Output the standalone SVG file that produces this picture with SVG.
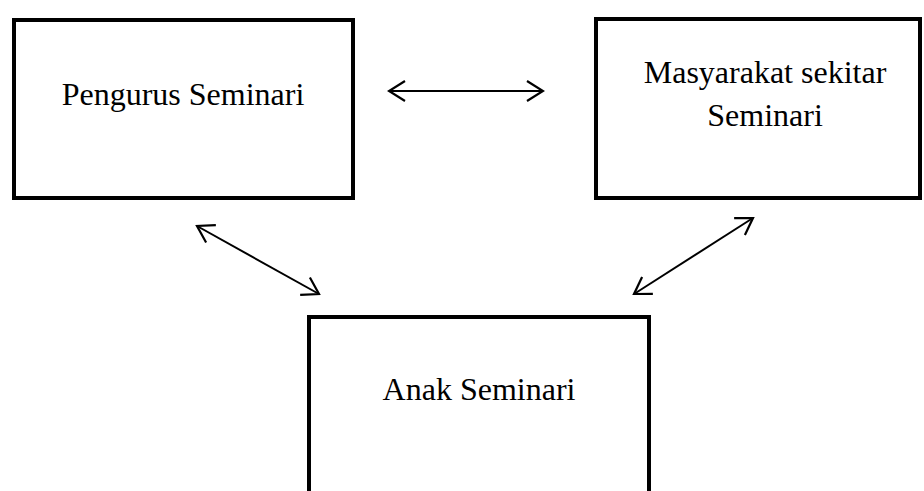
<svg xmlns="http://www.w3.org/2000/svg" width="924" height="491" viewBox="0 0 924 491">
<style>
.box{fill:#fff;stroke:#000;stroke-width:4}
.lbl{font-family:"Liberation Serif","Times New Roman",serif;font-size:32px;fill:#000;text-anchor:middle}
.con{stroke:#000;stroke-width:2;fill:none;marker-start:url(#ah);marker-end:url(#ah)}
</style>
<defs>
<marker id="ah" markerUnits="userSpaceOnUse" viewBox="-1 -11 20 22" refX="17" refY="0" markerWidth="20" markerHeight="22" orient="auto-start-reverse">
<path d="M1,-10 L17,0 L1,10" fill="none" stroke="#000" stroke-width="2.2" stroke-linejoin="miter"/>
</marker>
</defs>
<rect width="924" height="491" fill="#fff"/>
<g id="node-pengurus">
<rect class="box" x="14" y="20" width="339" height="178"/>
<text class="lbl" x="183" y="105">Pengurus Seminari</text>
</g>
<g id="node-masyarakat">
<rect class="box" x="596" y="19" width="324" height="179"/>
<text class="lbl" x="765" y="83">Masyarakat sekitar</text>
<text class="lbl" x="765" y="126">Seminari</text>
</g>
<g id="node-anak">
<rect class="box" x="309" y="317" width="340" height="190"/>
<text class="lbl" x="479" y="400">Anak Seminari</text>
</g>
<g id="connectors">
<line class="con" x1="389" y1="91" x2="543" y2="91"/>
<line class="con" x1="197" y1="226" x2="319" y2="294"/>
<line class="con" x1="753" y1="218" x2="634" y2="294"/>
</g>
</svg>
